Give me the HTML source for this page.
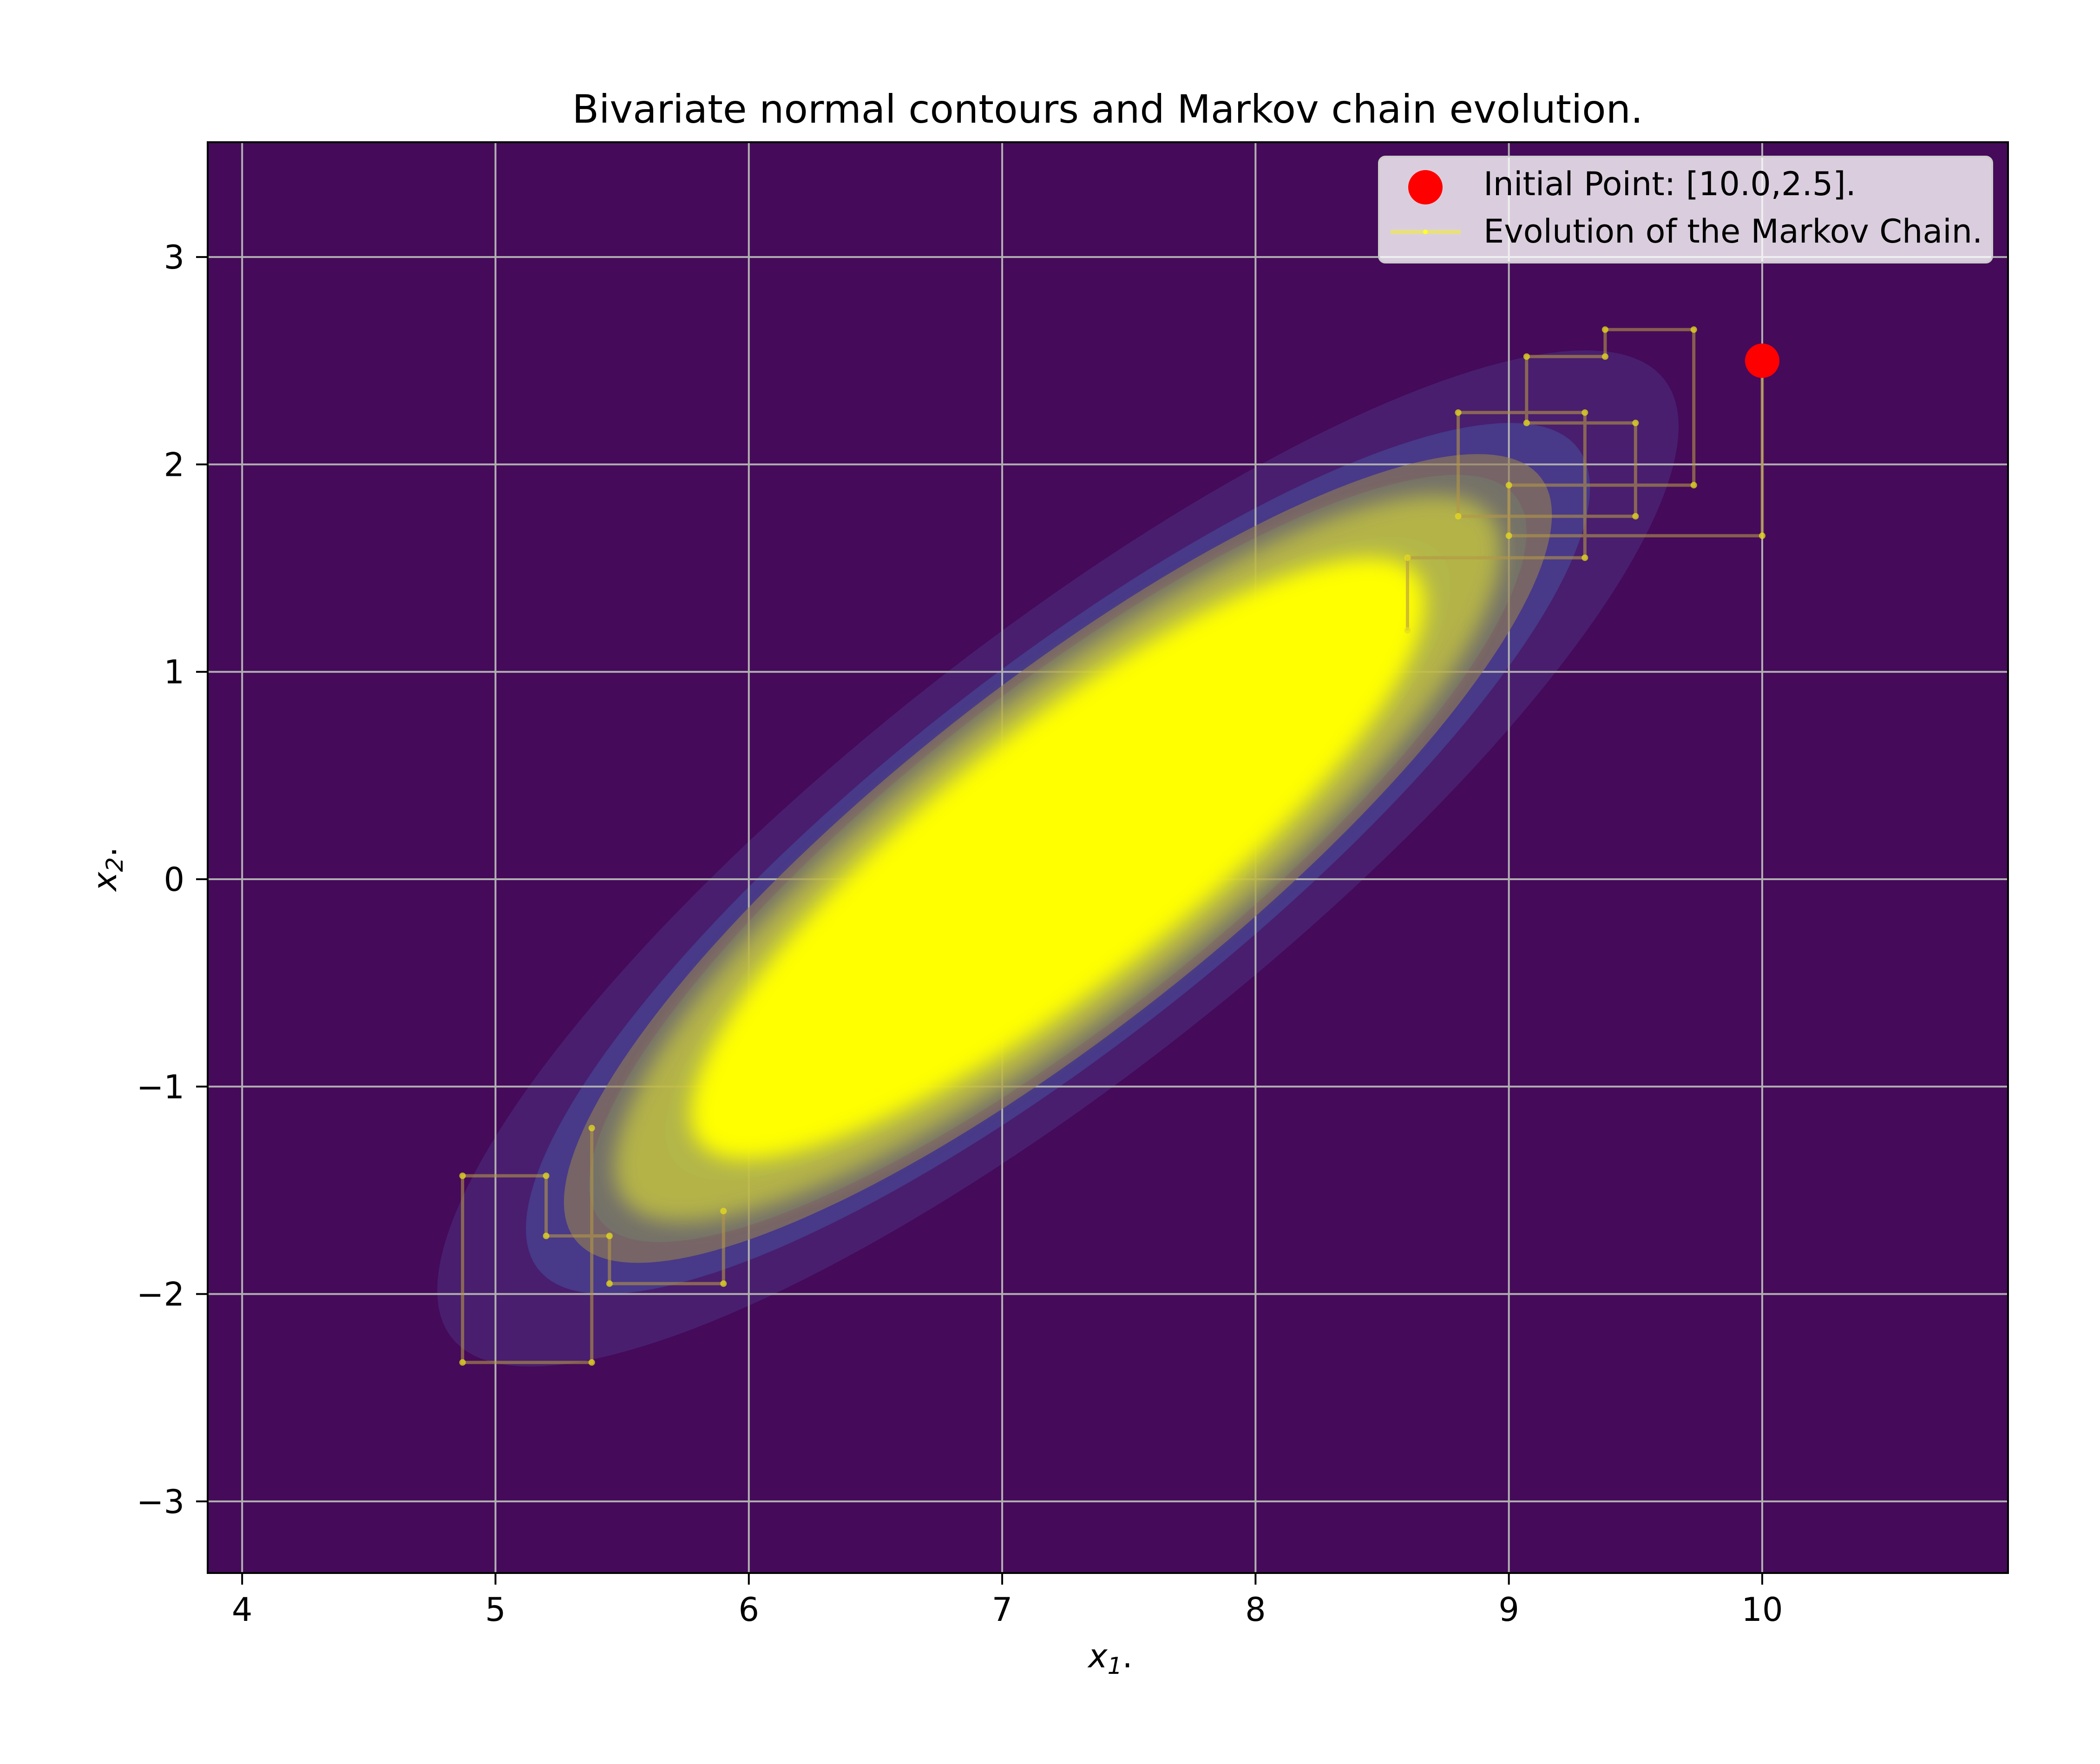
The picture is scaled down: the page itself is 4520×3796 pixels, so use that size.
<!DOCTYPE html>
<html><head><meta charset="utf-8"><style>
html,body{margin:0;padding:0;background:#fff;}
svg{display:block;font-family:"DejaVu Sans","Liberation Sans",sans-serif;}
</style></head><body>
<svg id="chart" width="4520" height="3796" viewBox="0 0 4520 3796" xmlns="http://www.w3.org/2000/svg">
<rect width="4520" height="3796" fill="#fff"/>
<defs>
<filter id="blur1" x="-20%" y="-20%" width="140%" height="140%"><feGaussianBlur stdDeviation="22"/></filter>
<clipPath id="plotclip"><rect x="447" y="306" width="3875" height="3079"/></clipPath>
</defs>
<rect x="447" y="306" width="3875" height="3079" fill="#450a5a"/>
<g id="contours" clip-path="url(#plotclip)"></g>
<g id="grid"></g>
<g id="cloud" clip-path="url(#plotclip)"></g>
<g id="chain" clip-path="url(#plotclip)"></g>
<g id="ticks"></g>
<rect x="447" y="306" width="3875" height="3079" fill="none" stroke="#000" stroke-width="4"/>
<text x="2384" y="264" font-size="84" text-anchor="middle">Bivariate normal contours and Markov chain evolution.</text>
<text x="2390" y="3588" font-size="70" text-anchor="middle" font-style="italic">x<tspan font-size="50" dy="14">1</tspan><tspan font-style="normal" dy="-14">.</tspan></text>
<text transform="translate(250,1870) rotate(-90)" font-size="70" text-anchor="middle" font-style="italic">x<tspan font-size="50" dy="14">2</tspan><tspan font-style="normal" dy="-14">.</tspan></text>
<g>
<rect x="2968" y="337" width="1320" height="228" rx="14" fill="#ffffff" fill-opacity="0.8" stroke="#cccccc" stroke-width="4"/>
<circle cx="3068" cy="403" r="37" fill="#ff0000"/>
<text x="3193" y="420" font-size="70">Initial Point: [10.0,2.5].</text>
<line x1="2993" y1="499" x2="3144" y2="499" stroke="#e8e080" stroke-width="9"/>
<circle cx="3068" cy="499" r="5" fill="#ffff30"/>
<text x="3193" y="522" font-size="70">Evolution of the Markov Chain.</text>
</g>
<g id="initial"></g>
</svg>
<script>
const xTicks = [4,5,6,7,8,9,10];
const yTicks = [-3,-2,-1,0,1,2,3];
const meanVec = [7.22, 0.1];
const sigmaVals = [1.0, 1.0];
const rhoVal = [0.85];
const contourRadii = [2.45, 2.1, 1.85, 1.55];
const contourColors = ['rgba(80,70,150,0.35)','rgba(70,90,170,0.45)','rgba(60,120,150,0.5)','rgba(50,150,130,0.5)'];
const cloudRadii = [1.95, 1.75, 1.45];
const initialPoint = [10.0, 2.5];
const chainUpperX = [10.0,10.0,9.0,9.0,9.73,9.73,9.38,9.38,9.07,9.07,9.5,9.5,8.8,8.8,9.3,9.3,8.6,8.6];
const chainUpperY = [2.5,1.656,1.656,1.9,1.9,2.65,2.65,2.52,2.52,2.2,2.2,1.75,1.75,2.25,2.25,1.55,1.55,1.2];
const chainLowerX = [5.38,5.38,4.87,4.87,5.2,5.2,5.45,5.45,5.9,5.9];
const chainLowerY = [-1.2,-2.33,-2.33,-1.43,-1.43,-1.72,-1.72,-1.95,-1.95,-1.6];

const NS='http://www.w3.org/2000/svg';
function X(x){return 447+(x-3.864)*545.3;}
function Y(y){return 1892-y*446.3;}
function mk(tag,attrs,parent){const e=document.createElementNS(NS,tag);for(const k in attrs)e.setAttribute(k,attrs[k]);parent.appendChild(e);return e;}
function ellipsePts(r){
  const sx=sigmaVals[0], sy=sigmaVals[1], rho=rhoVal[0];
  const pts=[];
  for(let i=0;i<180;i++){const t=i/180*2*Math.PI;const a=Math.cos(t),b=Math.sin(t);
    const dx=r*sx*a, dy=r*(rho*sy*a+sy*Math.sqrt(1-rho*rho)*b);
    pts.push(X(meanVec[0]+dx).toFixed(1)+','+Y(meanVec[1]+dy).toFixed(1));}
  return pts.join(' ');
}
const cg=document.getElementById('contours');
contourRadii.forEach((r,i)=>{
  const p=mk('polygon',{points:ellipsePts(r),fill:contourColors[i]},cg);
  
  
});
const gg=document.getElementById('grid');
xTicks.forEach(v=>{const l=mk('line',{x1:X(v),x2:X(v),y1:306,y2:3385,stroke:'#b0b0b0','stroke-width':4},gg);
  
  });
yTicks.forEach(v=>{const l=mk('line',{x1:447,x2:4322,y1:Y(v),y2:Y(v),stroke:'#b0b0b0','stroke-width':4},gg);
  
  });
const cl=document.getElementById('cloud');
const c1=mk('polygon',{points:ellipsePts(cloudRadii[0]),fill:'rgba(150,130,80,0.6)'},cl);


const c2=mk('polygon',{points:ellipsePts(cloudRadii[1]),fill:'rgba(200,200,60,0.75)',filter:'url(#blur1)'},cl);


const c3=mk('polygon',{points:ellipsePts(cloudRadii[2]),fill:'#ffff00',filter:'url(#blur1)'},cl);


const ch=document.getElementById('chain');
function drawChain(xs,ys,name){
  let d='';
  xs.forEach((x,i)=>{d+=(i?'L':'M')+X(x).toFixed(1)+' '+Y(ys[i]).toFixed(1);});
  const path=mk('path',{d:d,fill:'none',stroke:'rgba(180,150,70,0.6)','stroke-width':7},ch);
  
  
  xs.forEach((x,i)=>{const c=mk('circle',{cx:X(x),cy:Y(ys[i]),r:7,fill:'rgba(230,220,30,0.75)'},ch);
    
    });
}
drawChain(chainUpperX,chainUpperY,'markov-chain-path-upper');
drawChain(chainLowerX,chainLowerY,'markov-chain-path-lower');
const ip=mk('circle',{cx:X(initialPoint[0]),cy:Y(initialPoint[1]),r:37,fill:'#ff0000'},document.getElementById('initial'));


const tg=document.getElementById('ticks');
xTicks.forEach(v=>{
  const l=mk('line',{x1:X(v),x2:X(v),y1:3385,y2:3410,stroke:'#000','stroke-width':4},tg);
  
  
  const t=mk('text',{x:X(v),y:3488,'font-size':70,'text-anchor':'middle'},tg);
  t.textContent=String(v);
  
  
});
yTicks.forEach(v=>{
  const l=mk('line',{x1:422,x2:447,y1:Y(v),y2:Y(v),stroke:'#000','stroke-width':4},tg);
  
  
  const t=mk('text',{x:397,y:Y(v)+25,'font-size':70,'text-anchor':'end'},tg);
  t.textContent=v<0?'\u2212'+Math.abs(v):String(v);
  
  
});
</script>
</body></html>
